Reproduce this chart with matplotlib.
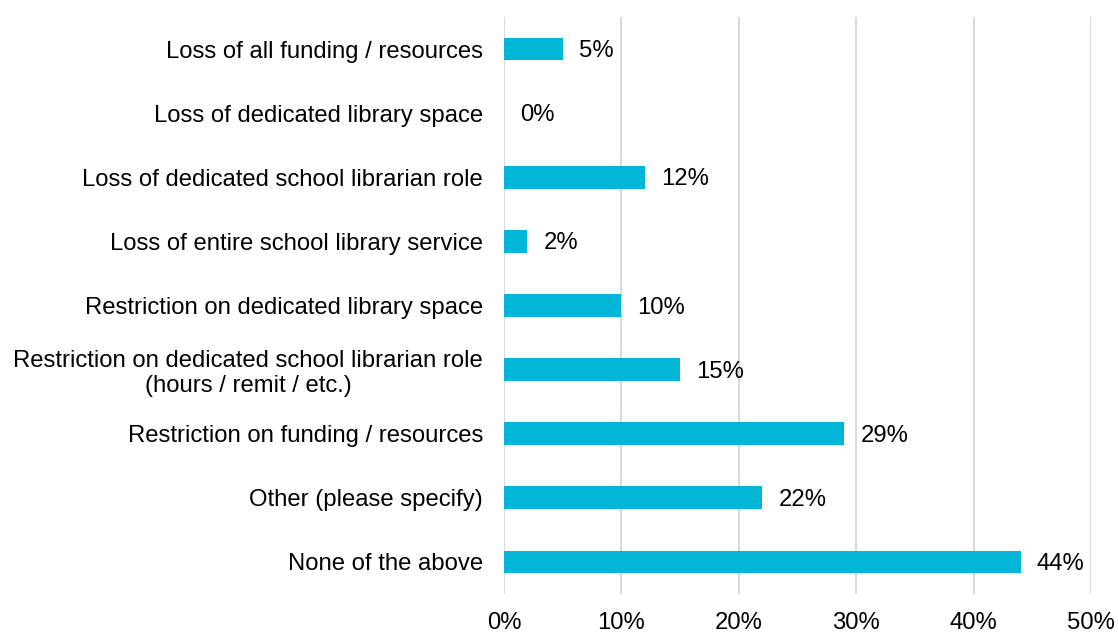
import matplotlib.pyplot as plt
import numpy as np

categories = [
    "Loss of all funding / resources",
    "Loss of dedicated library space",
    "Loss of dedicated school librarian role",
    "Loss of entire school library service",
    "Restriction on dedicated library space",
    "Restriction on dedicated school librarian role\n(hours / remit / etc.)",
    "Restriction on funding / resources",
    "Other (please specify)",
    "None of the above",
]
values = [5, 0, 12, 2, 10, 15, 29, 22, 44]
xticks = [0, 10, 20, 30, 40, 50]

plt.rcParams["font.family"] = ["Liberation Sans", "DejaVu Sans"]
FS = 17.2

fig = plt.figure(figsize=(11.18, 6.32), dpi=100)
ax = fig.add_axes([504 / 1118, 1 - 594 / 632, 587 / 1118, 577 / 632])

y = np.arange(len(categories))
ax.barh(y, values, height=0.355, color="#02B6D7", zorder=2)

# value labels just right of each bar end
for yi, v in zip(y, values):
    ax.annotate(
        f"{v}%",
        xy=(v, yi),
        xytext=(16, -2),
        textcoords="offset pixels",
        ha="left",
        va="center",
        fontsize=FS,
        color="black",
    )

ax.set_xlim(0, 50)
ax.set_ylim(len(categories) - 0.5, -0.5)
ax.set_xticks(xticks)
ax.set_xticklabels([f"{t}%" for t in xticks], fontsize=FS)
ax.set_yticks(y)
ax.set_yticklabels(categories, fontsize=FS, multialignment="center", linespacing=1.15)
ax.tick_params(axis="x", length=0, pad=13)
ax.tick_params(axis="y", length=0, pad=15)

ax.grid(axis="x", color="#D9D9D9", linewidth=1.5, zorder=0)
for s in ax.spines.values():
    s.set_visible(False)

fig.savefig("out.png", dpi=100)
